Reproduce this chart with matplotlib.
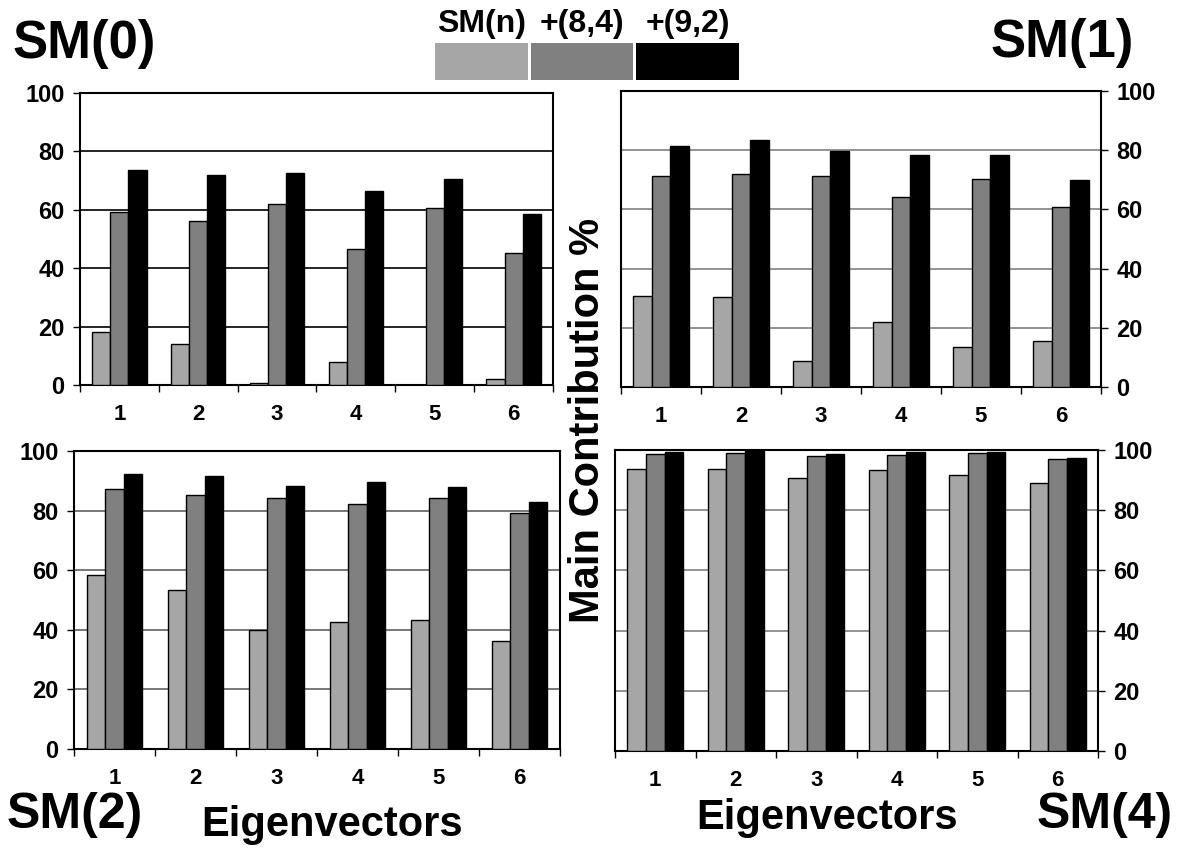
import matplotlib
matplotlib.use('Agg')
import matplotlib.pyplot as plt
import matplotlib.patches as mp
import numpy as np

plt.rcParams['font.family'] = ['Liberation Sans', 'DejaVu Sans']
plt.rcParams['font.weight'] = 'bold'

eigvecs = [1, 2, 3, 4, 5, 6]
series = ['SM(n)', '+(8,4)', '+(9,2)']
yticks = [0, 20, 40, 60, 80, 100]

sm0_n = [18.0, 14.0, 0.8, 8.0, 0.0, 2.2]
sm0_84 = [59.1, 56.3, 62.1, 46.5, 60.6, 45.3]
sm0_92 = [73.6, 72.0, 72.7, 66.5, 70.7, 58.6]

sm1_n = [30.8, 30.3, 8.8, 22.0, 13.4, 15.6]
sm1_84 = [71.2, 72.1, 71.2, 64.3, 70.4, 60.9]
sm1_92 = [81.3, 83.3, 79.8, 78.4, 78.3, 70.0]

sm2_n = [58.3, 53.2, 40.0, 42.6, 43.3, 36.1]
sm2_84 = [87.1, 85.4, 84.3, 82.3, 84.1, 79.3]
sm2_92 = [92.3, 91.5, 88.1, 89.7, 87.8, 82.9]

sm4_n = [93.7, 93.6, 90.7, 93.2, 91.8, 89.1]
sm4_84 = [98.8, 98.9, 98.1, 98.4, 98.9, 97.0]
sm4_92 = [99.4, 99.7, 98.8, 99.2, 99.3, 97.2]

colors = ['#a6a6a6', '#808080', '#000000']
W, H = 1190., 861.
bw = 0.23

fig = plt.figure(figsize=(11.9, 8.61), dpi=100)


def rect(x0, x1, y0, y1):
    # pixel box -> figure fraction
    return [x0 / W, 1 - y1 / H, (x1 - x0) / W, (y1 - y0) / H]


def ftext(x, y, s, **kw):
    fig.text(x / W, 1 - y / H, s, ha='center', va='center', **kw)


def panel(r, vals, side, gridc):
    ax = fig.add_axes(r)
    x = np.arange(1, 7)
    for k, (v, c) in enumerate(zip(vals, colors)):
        ax.bar(x + (k - 1) * bw, v, bw, color=c, edgecolor='k', linewidth=1.0, zorder=3)
    ax.set_xlim(0.5, 6.5)
    ax.set_ylim(0, 100)
    ax.set_yticks(yticks)
    ax.set_yticklabels([str(t) for t in yticks])
    ax.yaxis.grid(True, color=gridc, linewidth=1.2, zorder=0)
    ax.set_axisbelow(True)
    ax.set_xticks(np.arange(0.5, 7, 1))
    ax.set_xticklabels([])
    ax.set_xticks(x, minor=True)
    ax.set_xticklabels([str(e) for e in eigvecs], minor=True)
    ax.tick_params(axis='x', which='major', direction='out', length=5, width=1)
    ax.tick_params(axis='x', which='minor', length=0, pad=14, labelsize=16)
    if side == 'right':
        ax.yaxis.tick_right()
    ax.tick_params(axis='y', direction='out', length=5, width=1, labelsize=17, pad=6)
    for s in ax.spines.values():
        s.set_linewidth(1.5)
    return ax


panel(rect(80, 553, 93, 385), [sm0_n, sm0_84, sm0_92], 'left', 'k')
panel(rect(621, 1101, 91, 387), [sm1_n, sm1_84, sm1_92], 'right', '#808080')
panel(rect(74, 560, 451, 749), [sm2_n, sm2_84, sm2_92], 'left', '#606060')
panel(rect(615, 1098, 450, 751), [sm4_n, sm4_84, sm4_92], 'right', '#808080')

# panel names
ftext(84, 44, 'SM(0)', fontsize=38)
ftext(1062, 43, 'SM(1)', fontsize=38)
ftext(75, 815, 'SM(2)', fontsize=36)
ftext(1105, 815, 'SM(4)', fontsize=36)

ftext(332, 825, 'Eigenvectors', fontsize=30)
ftext(827, 818, 'Eigenvectors', fontsize=30)
fig.text(588 / W, 1 - 420 / H, 'Main Contribution %', rotation=90,
         ha='center', va='center', fontsize=30)

# legend strip
boxes = [(435, 528), (531, 633), (636, 739)]
for (x0, x1), c, lab in zip(boxes, colors, series):
    fig.patches.append(mp.Rectangle((x0 / W, 1 - 80 / H), (x1 - x0) / W, 37 / H,
                                    transform=fig.transFigure, facecolor=c,
                                    edgecolor='none'))
    ftext((x0 + x1) / 2., 24, lab, fontsize=23)

plt.savefig('out.png', dpi=100)
